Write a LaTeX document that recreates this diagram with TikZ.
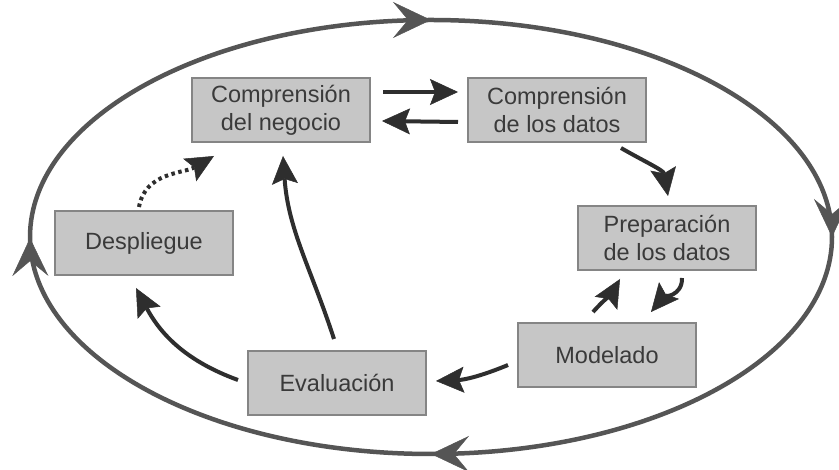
\documentclass[tikz,border=0pt]{standalone}
\usepackage{fontspec}
\setmainfont{Liberation Sans}
\usetikzlibrary{arrows.meta,decorations.markings,calc}
\definecolor{boxfill}{HTML}{C6C6C6}
\definecolor{boxline}{HTML}{858585}
\definecolor{txt}{HTML}{3A3A3A}
\definecolor{arr}{HTML}{2E2E2E}
\definecolor{ring}{HTML}{555555}
\begin{document}
\begin{tikzpicture}[x=1pt,y=1pt,
  phase/.style={draw=boxline,line width=2pt,fill=boxfill,minimum width=178pt,minimum height=64pt,
    inner sep=0pt,align=center,text=txt,font=\fontsize{23.5}{28}\selectfont},
  flow/.style={draw=arr,line width=4pt,-{Stealth[length=28pt,width=26pt,inset=5pt,fill=arr,line width=0.5pt]}},
  ringhead/.style={ring,line width=0.5pt}
]
\useasboundingbox (0,0) rectangle (839,470);
\fill[white] (0,0) rectangle (839,470);

% outer cycle
\draw[ring,line width=4.5pt,
  postaction={decorate},
  decoration={markings,
    mark=at position 0.25 with {\arrow[ringhead]{Stealth[length=38pt,width=36pt,inset=15pt,fill=ring]}},
    mark=at position 0.5 with {\arrow[ringhead]{Stealth[length=38pt,width=36pt,inset=15pt,fill=ring]}},
    mark=at position 0.75 with {\arrow[ringhead]{Stealth[length=38pt,width=36pt,inset=15pt,fill=ring]}},
    mark=at position 0.9995 with {\arrow[ringhead]{Stealth[length=38pt,width=36pt,inset=15pt,fill=ring]}}}]
  (30,233) arc[start angle=180,end angle=-180,x radius=401,y radius=217];

% phases
\node[phase] (cn) at (281,360) {Comprensión\\del negocio};
\node[phase] (cd) at (557,360) {Comprensión\\de los datos};
\node[phase] (dp) at (144,227) {Despliegue};
\node[phase] (pr) at (667,232) {Preparación\\de los datos};
\node[phase] (md) at (607,115) {Modelado};
\node[phase] (ev) at (337,87) {Evaluación};

% connectors
\draw[flow] ($(cn.east)+(12,18)$) -- ($(cd.west)+(-9,18)$);
\draw[flow] ($(cd.west)+(-9,-12)$) -- ($(cn.east)+(11,-11)$);
\draw[flow] ($(cd.south east)+(-26,-5)$) to[out=-30,in=100] ($(pr.north)+(1,9)$);
\draw[flow] ($(pr.south)+(15,-7)$) to[out=-88,in=50] ($(md.north)+(44,10)$);
\draw[flow] ($(md.north)+(-14,10)$) to[out=48,in=-120] ($(pr.south)+(-47,-8)$);
\draw[flow] ($(md.west)+(-9,-10)$) to[bend left=10] ($(ev.east)+(9,2)$);
\draw[flow] ($(ev.west)+(-9,3)$) to[out=160,in=-62] ($(dp.south)+(-8,-12)$);
\draw[flow] ($(ev.north)+(-3,11)$) to[out=108,in=-86] ($(cn.south)+(2,-13)$);
\draw[flow,dash pattern=on 3.5pt off 3.5pt] ($(dp.north)+(-5,3)$) to[out=80,in=-150] ($(cn.south west)+(23,-13)$);
\end{tikzpicture}
\end{document}
